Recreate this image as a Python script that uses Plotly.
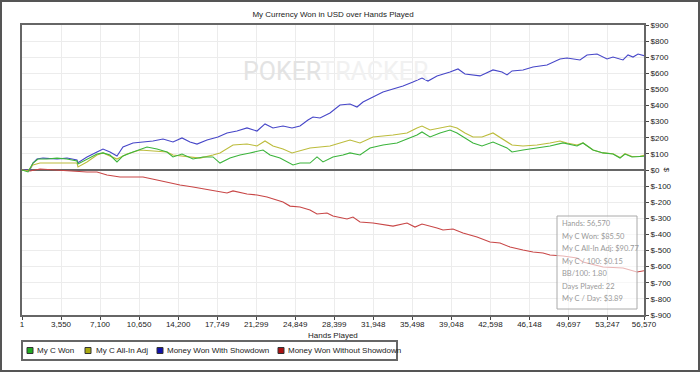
import plotly.graph_objects as go

# ---------------- data ----------------
x_tick_vals = [1, 3550, 7100, 10650, 14200, 17749, 21299, 24849, 28399, 31948,
               35498, 39048, 42598, 46148, 49697, 53247, 56570]
x_tick_text = [f"{v:,}" for v in x_tick_vals]
y_tick_vals = list(range(-900, 1000, 100))
y_tick_text = [f"${v}" for v in y_tick_vals]

showdown_hands = [1, 728, 1000, 1364, 1910, 3183, 4093, 5002, 5093, 5912, 6821, 7367, 8004, 8640,
                  9186, 10095, 11005, 11914, 12824, 13733, 14552, 15280, 15916, 16826, 17826,
                  18645, 19554, 20464, 21374, 22102, 22829, 23738, 24557, 25284, 26012, 26466,
                  27103, 28013, 28922, 29832, 30468, 31014, 31923, 32833, 33742, 34652, 35561,
                  36380, 36925, 37744, 38926, 39654, 40290, 41018, 41655, 42837, 43656, 44111,
                  44566, 45566, 46475, 47748, 48931, 49568, 50750, 51387, 52297, 53206, 53752,
                  54661, 55116, 55571, 56026, 56570]
showdown_won = [0, 0, 43, 68, 74, 68, 74, 62, 45, 81, 112, 130, 112, 87,
                143, 168, 174, 180, 192, 174, 199, 174, 161, 186, 205,
                230, 242, 261, 242, 286, 261, 273, 261, 273, 310, 329,
                323, 354, 403, 410, 391, 422, 453, 484, 503, 521, 546,
                571, 552, 584, 608, 627, 596, 590, 584, 621, 608, 590,
                615, 621, 639, 652, 689, 695, 683, 714, 720, 689, 701,
                683, 714, 701, 720, 710]

no_showdown_hands = [1, 728, 1637, 2819, 4093, 5002, 5912, 6821, 7731, 8913, 10095, 11005, 12278,
                     13461, 14370, 15552, 16826, 17099, 18645, 19191, 20464, 21374, 22283, 23193,
                     23738, 24375, 25284, 26194, 26830, 27740, 28285, 29559, 29832, 30104, 30741,
                     31923, 33742, 35016, 35743, 36380, 37744, 38290, 39199, 40108, 41382, 42564,
                     43474, 44384, 45566, 46475, 47385, 48021, 49204, 50477, 51023, 52842, 54661,
                     55935, 56570]
no_showdown_won = [0, -6, 6, 0, -6, -12, -12, -12, -31, -43, -43, -43, -62,
                   -81, -93, -105, -118, -124, -143, -130, -149, -155, -168, -186,
                   -199, -224, -230, -248, -273, -267, -286, -304, -298, -292, -323,
                   -329, -348, -329, -354, -335, -360, -372, -366, -391, -416, -447,
                   -453, -478, -497, -509, -515, -528, -534, -546, -571, -602, -608,
                   -633, -625]

won_hands = [1, 546, 1000, 1455, 2274, 3183, 4093, 5002, 5093, 5912, 6821, 7367, 8004, 8640,
             9186, 10095, 11369, 12278, 13188, 13733, 14552, 15552, 16462, 17371, 18008,
             18918, 19827, 20737, 21920, 22556, 23466, 24648, 25284, 26194, 26830, 27376,
             28285, 29195, 29832, 30741, 31650, 32833, 34106, 35016, 35925, 36380, 37107,
             38017, 38926, 39563, 40290, 41018, 41837, 42837, 44111, 44566, 45566, 46839,
             48021, 49204, 50477, 51023, 51933, 52842, 53752, 54388, 54843, 55480, 56208,
             56570]
won = [0, -12, 43, 68, 68, 74, 68, 56, 37, 68, 99, 106, 93, 50,
       87, 112, 143, 130, 112, 81, 99, 68, 81, 81, 43,
       74, 93, 106, 124, 93, 74, 31, 43, 43, 81, 50,
       81, 93, 106, 93, 137, 155, 168, 192, 217, 236, 205,
       230, 248, 230, 199, 168, 149, 174, 137, 112, 124, 137,
       149, 168, 149, 168, 124, 106, 99, 74, 99, 81, 81,
       85.5]

adj_hands = [1, 546, 1000, 1637, 2819, 4093, 5002, 5093, 5912, 6821, 7367, 8640, 9550, 10732,
             11914, 13188, 13733, 15007, 16189, 17371, 18008, 19191, 20464, 21374, 22102,
             22829, 23738, 24557, 25284, 26194, 27103, 28013, 28922, 29832, 30741, 31923,
             33742, 35016, 35925, 36380, 37107, 38017, 38926, 39563, 40290, 41018, 41837,
             42837, 44111, 44566, 45566, 46839, 48021, 48931, 49568, 50477, 51023, 51933,
             52842, 53752, 54388, 54843, 55480, 56208, 56570]
adj_won = [0, -6, 31, 43, 43, 43, 43, 19, 50, 93, 106, 68, 99, 124,
           118, 112, 93, 81, 74, 93, 106, 155, 161, 149, 180,
           149, 130, 106, 118, 137, 143, 149, 168, 186, 168, 205,
           217, 230, 261, 273, 248, 261, 273, 261, 230, 205, 205,
           230, 174, 155, 149, 155, 168, 180, 168, 155, 168, 124,
           106, 101, 77, 101, 84, 85, 90.77]

series_names = ["My C Won", "My C All-In Adj", "Money Won With Showdown", "Money Won Without Showdown"]
line_colors = ["#3cb43c", "#bcbc3c", "#4646c8", "#c84646"]
legend_colors = ["#22aa22", "#aaaa11", "#1111aa", "#aa1111"]

stats_lines = ["Hands: 56,570", "My C Won: $85.50", "My C All-In Adj: $90.77", "My C / 100: $0.15",
               "BB/100: 1.80", "Days Played: 22", "My C / Day: $3.89"]

# ---------------- figure ----------------
fig = go.Figure()

trace_data = [
    (showdown_hands, showdown_won, 2),
    (no_showdown_hands, no_showdown_won, 3),
    (adj_hands, adj_won, 1),
    (won_hands, won, 0),
]
for xs, ys, idx in trace_data:
    fig.add_trace(go.Scatter(x=xs, y=ys, mode="lines", name=series_names[idx],
                             line=dict(color=line_colors[idx], width=1.1),
                             showlegend=False, hoverinfo="skip"))

W, H = 700, 372
L, R, T, B = 22, 56, 25, 57
pw, ph = W - L - R, H - T - B


def px(x):
    return (x - L) / pw


def py(y):
    return (T + ph - y) / ph


fig.update_layout(
    width=W, height=H,
    margin=dict(l=L, r=R, t=T, b=B, pad=0),
    paper_bgcolor="white", plot_bgcolor="white",
    font=dict(family="Liberation Sans, Arial, sans-serif", size=8, color="#222222"),
    title=dict(text="My Currency Won in USD over Hands Played", x=333 / W, xanchor="center",
               y=1 - 14 / H, yanchor="middle", font=dict(size=8, color="#222222")),
    showlegend=False,
    xaxis=dict(range=[1, 56570], tickvals=x_tick_vals, ticktext=x_tick_text,
               showgrid=True, gridcolor="#ececec", gridwidth=1,
               ticks="outside", ticklen=3, tickcolor="#444444", ticklabelstandoff=-3,
               showline=True, linecolor="#666666", linewidth=2, mirror=True,
               zeroline=False, tickfont=dict(size=8)),
    yaxis=dict(range=[-900, 900], tickvals=y_tick_vals, ticktext=y_tick_text, side="right",
               showgrid=True, gridcolor="#ececec", gridwidth=1,
               ticks="outside", ticklen=3, tickcolor="#444444",
               showline=True, linecolor="#666666", linewidth=2, mirror=True,
               zeroline=True, zerolinecolor="#666666", zerolinewidth=1.5,
               tickfont=dict(size=8)),
)

# axis titles
fig.add_annotation(text="Hands Played", xref="paper", yref="paper", x=px(333), y=py(335),
                   yanchor="middle", showarrow=False, font=dict(size=8, color="#222222"))
fig.add_annotation(text="$", textangle=90, xref="paper", yref="paper",
                   x=px(673), y=py(170), showarrow=False,
                   font=dict(size=8, color="#222222"))

# watermark
fig.add_annotation(text="<span style='color:#e3e3e3'>POKER</span><span style='color:#f1f1f1'>TRACKER</span>",
                   xref="paper", yref="paper", x=px(335), y=py(55),
                   showarrow=False, font=dict(family="Roboto, Liberation Sans, sans-serif", size=25))

# stats box
bx0, bx1, by0, by1 = 557, 637, 216, 309
fig.add_shape(type="rect", xref="paper", yref="paper",
              x0=px(bx0), x1=px(bx1), y0=py(by1), y1=py(by0),
              fillcolor="rgba(255,255,255,0.6)", line=dict(color="#aaaaaa", width=1), layer="above")
for i, s in enumerate(stats_lines):
    fig.add_annotation(text=s, xref="paper", yref="paper", x=px(560), xanchor="left",
                       y=py(224 + i * 12.4), yanchor="middle", showarrow=False,
                       font=dict(family="Lato, Liberation Sans, sans-serif", size=7.5, color="#999999"))

# legend (drawn manually to match the compact original)
fig.add_shape(type="rect", xref="paper", yref="paper", x0=px(22), x1=px(397), y0=py(360), y1=py(341),
              line=dict(color="#666666", width=2), fillcolor="white", layer="above")
legend_sq_x = [30, 88, 160, 281]
legend_txt_x = [35, 94, 165, 286]
for i, name in enumerate(series_names):
    fig.add_shape(type="rect", xref="paper", yref="paper",
                  x0=px(legend_sq_x[i] - 3), x1=px(legend_sq_x[i] + 3), y0=py(353.5), y1=py(347.5),
                  line=dict(color="#333333", width=1), fillcolor=legend_colors[i], layer="above")
    fig.add_annotation(text=name, xref="paper", yref="paper", x=px(legend_txt_x[i]), xanchor="left",
                       y=py(350.5), yanchor="middle", showarrow=False,
                       font=dict(size=8, color="#222222"))

# outer frame
fig.add_shape(type="rect", xref="paper", yref="paper",
              x0=px(1), x1=px(W - 1), y0=py(H - 1), y1=py(1),
              line=dict(color="#555555", width=2), fillcolor="rgba(0,0,0,0)", layer="above")

fig.write_html("out.html", config={"displayModeBar": False},
               post_script="document.body.style.margin='0';document.body.style.overflow='hidden';")
